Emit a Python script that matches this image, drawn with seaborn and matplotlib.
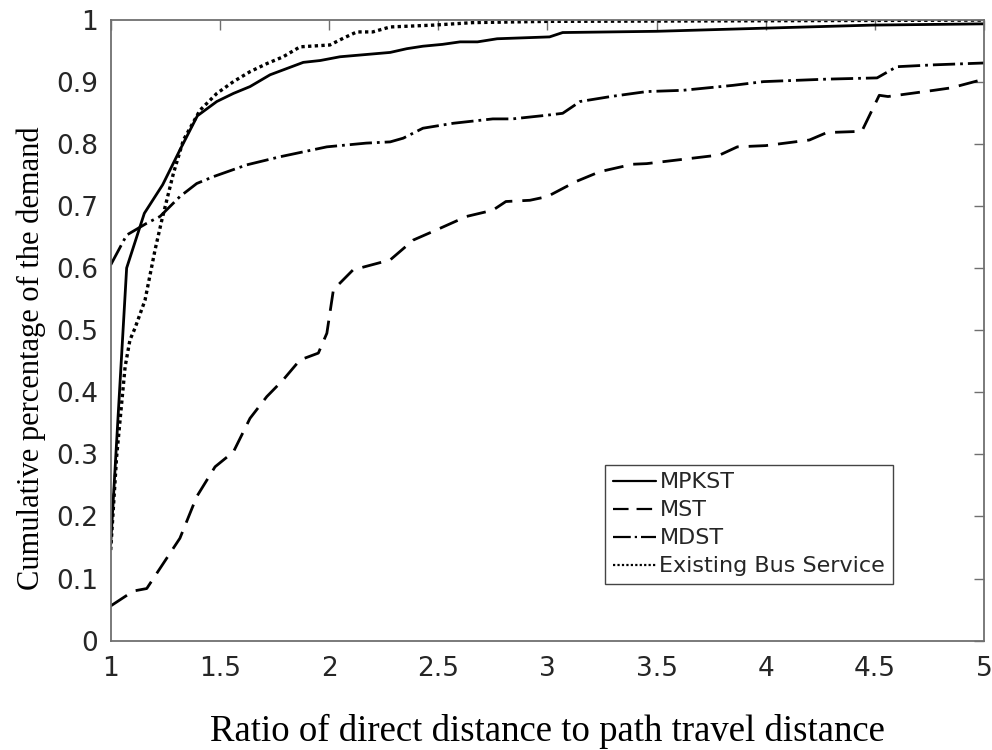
import numpy as np
import pandas as pd
import matplotlib
matplotlib.use("Agg")
import matplotlib.pyplot as plt
import seaborn as sns

# ---- data ----
mpkst_x = [1.0, 1.073, 1.154, 1.238, 1.317, 1.397, 1.486, 1.562, 1.638, 1.73, 1.882, 1.96, 2.05,
           2.28, 2.356, 2.43, 2.52, 2.60, 2.68, 2.77, 3.01, 3.07, 3.5, 3.99, 4.49, 5.0]
mpkst_y = [0.155, 0.600, 0.688, 0.734, 0.790, 0.845, 0.868, 0.881, 0.892, 0.911, 0.931, 0.934, 0.940,
           0.947, 0.953, 0.957, 0.960, 0.964, 0.964, 0.969, 0.972, 0.979, 0.981, 0.986, 0.991, 0.993]

mst_x = [1.0, 1.104, 1.165, 1.317, 1.394, 1.478, 1.562, 1.638, 1.715, 1.79, 1.867, 1.951, 1.99,
         2.02, 2.11, 2.28, 2.386, 2.49, 2.63, 2.75, 2.81, 2.92, 3.0, 3.13, 3.24, 3.39, 3.455,
         3.79, 3.87, 4.0, 4.2, 4.28, 4.44, 4.52, 4.56, 4.77, 4.85, 5.0]
mst_y = [0.056, 0.080, 0.084, 0.165, 0.232, 0.280, 0.304, 0.358, 0.393, 0.420, 0.452, 0.463, 0.495,
         0.565, 0.597, 0.613, 0.645, 0.661, 0.683, 0.693, 0.707, 0.709, 0.715, 0.739, 0.755, 0.767, 0.768,
         0.782, 0.795, 0.797, 0.806, 0.818, 0.820, 0.878, 0.876, 0.886, 0.890, 0.904]

mdst_x = [1.0, 1.073, 1.165, 1.226, 1.317, 1.394, 1.47, 1.623, 1.775, 1.99, 2.17, 2.28, 2.34, 2.43,
          2.57, 2.75, 2.84, 3.0, 3.07, 3.15, 3.29, 3.455, 3.62, 3.85, 3.99, 4.28, 4.51, 4.60, 4.77, 5.0]
mdst_y = [0.605, 0.653, 0.672, 0.683, 0.715, 0.736, 0.747, 0.766, 0.779, 0.795, 0.801, 0.803, 0.809, 0.825,
          0.833, 0.840, 0.840, 0.846, 0.849, 0.868, 0.876, 0.884, 0.886, 0.894, 0.900, 0.904, 0.906, 0.924, 0.927, 0.930]

bus_x = [1.0, 1.027, 1.066, 1.088, 1.111, 1.157, 1.203, 1.234, 1.287, 1.333, 1.409, 1.486, 1.562, 1.638,
         1.715, 1.79, 1.867, 2.004, 2.066, 2.127, 2.2, 2.28, 2.48, 2.66, 3.0, 4.0, 5.0]
bus_y = [0.146, 0.296, 0.441, 0.484, 0.503, 0.548, 0.629, 0.677, 0.752, 0.806, 0.854, 0.881, 0.900, 0.916,
         0.929, 0.940, 0.956, 0.959, 0.970, 0.980, 0.980, 0.988, 0.991, 0.995, 0.997, 0.998, 0.999]

series_names = ["MPKST", "MST", "MDST", "Existing Bus Service"]
x_ticks = [1, 1.5, 2, 2.5, 3, 3.5, 4, 4.5, 5]
x_tick_labels = ["1", "1.5", "2", "2.5", "3", "3.5", "4", "4.5", "5"]
y_ticks = [0, 0.1, 0.2, 0.3, 0.4, 0.5, 0.6, 0.7, 0.8, 0.9, 1.0]
y_tick_labels = ["0", "0.1", "0.2", "0.3", "0.4", "0.5", "0.6", "0.7", "0.8", "0.9", "1"]

frames = []
for name, xs, ys in zip(series_names, [mpkst_x, mst_x, mdst_x, bus_x], [mpkst_y, mst_y, mdst_y, bus_y]):
    frames.append(pd.DataFrame({"x": xs, "y": ys, "series": name}))
df = pd.concat(frames, ignore_index=True)

sns.set_style("white")
plt.rcParams["font.family"] = ["DejaVu Sans"]

fig = plt.figure(figsize=(9.92, 7.5), dpi=100)
ax = fig.add_axes([0.1116, 0.1457, 0.8804, 0.8283])

dash_map = {
    "MPKST": "",
    "MST": (7, 3.6),
    "MDST": (8, 1.8, 1, 1.8),
    "Existing Bus Service": (1, 1),
}
sns.lineplot(data=df, x="x", y="y", style="series", style_order=series_names,
             dashes=dash_map, color="black", linewidth=2, estimator=None, sort=False,
             ax=ax, legend=True)
# thicker dots for the dotted series
for line in ax.get_lines():
    xd = np.asarray(line.get_xdata(), dtype=float)
    if len(xd) == len(bus_x) and np.allclose(xd, bus_x):
        line.set_linewidth(2.4)

ax.set_xlim(1, 5)
ax.set_ylim(0, 1)
ax.set_xticks(x_ticks)
ax.set_xticklabels(x_tick_labels)
ax.set_yticks(y_ticks)
ax.set_yticklabels(y_tick_labels)

axis_gray = "#6f6f6f"
for sp in ax.spines.values():
    sp.set_visible(True)
    sp.set_color(axis_gray)
    sp.set_linewidth(1.3)
ax.tick_params(axis="both", direction="in", length=7, width=1.0, color=axis_gray,
               top=True, right=True, labelsize=19, labelcolor="#262626")
ax.tick_params(axis="x", pad=11)
ax.tick_params(axis="y", pad=9)

ax.set_xlabel("Ratio of direct distance to path travel distance", family="Liberation Serif",
              fontsize=26.5, color="black", va="baseline")
ax.set_ylabel("Cumulative percentage of the demand", family="Liberation Serif",
              fontsize=22, color="black")
ax.xaxis.set_label_coords(0.5, -0.161)
ax.yaxis.set_label_coords(-0.074, 0.455)

leg = ax.legend(loc="lower left", bbox_to_anchor=(0.566, 0.091), fontsize=16,
                handlelength=1.95, handletextpad=0.15, borderpad=0.35, labelspacing=0.36,
                frameon=True, fancybox=False, framealpha=1, borderaxespad=0)
leg.get_frame().set_edgecolor("#444444")
leg.get_frame().set_linewidth(1.0)
for line in leg.get_lines():
    line.set_linewidth(1.6)

fig.savefig("out.png", dpi=100)
